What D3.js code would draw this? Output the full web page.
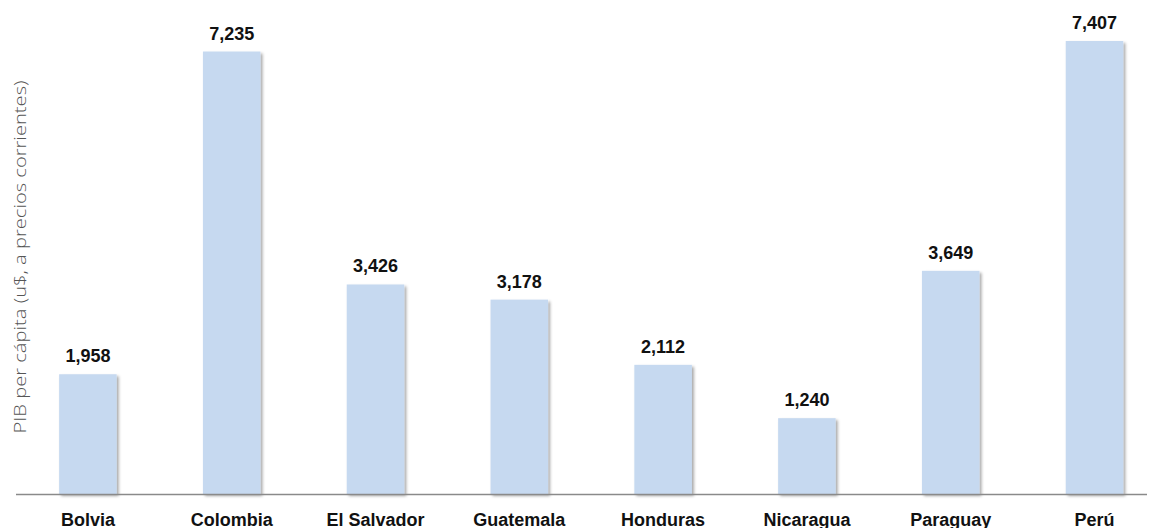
<!DOCTYPE html>
<html>
<head>
<meta charset="utf-8">
<script src="https://cdn.jsdelivr.net/npm/d3@7"></script>
<style>
  html, body { margin: 0; padding: 0; background: #fff; }
  svg { display: block; }
  text { font-family: "Liberation Sans", Arial, Helvetica, sans-serif; }
</style>
</head>
<body>
<svg id="chart" width="1153" height="528"></svg>
<script>
// GDP per capita by country (US$, current prices)
const countries = ["Bolvia", "Colombia", "El Salvador", "Guatemala", "Honduras", "Nicaragua", "Paraguay", "Perú"];
const gdpPerCapita = [1958, 7235, 3426, 3178, 2112, 1240, 3649, 7407];
const yAxisTitle = "PIB per cápita (u$, a precios corrientes)";

const svg = d3.select("#chart");
const W = 1153, H = 528;
const baseY = 494;
const topY = 41;

const x = d3.scaleBand()
  .domain(countries)
  .range([16, 16 + 143.8 * countries.length])
  .paddingInner(0.6)
  .paddingOuter(0.3);

const y = d3.scaleLinear()
  .domain([0, 7407])
  .range([baseY, topY]);

// soft drop shadow under each bar
const defs = svg.append("defs");
const f = defs.append("filter").attr("id", "shadow")
  .attr("x", "-20%").attr("y", "-5%").attr("width", "140%").attr("height", "115%");
f.append("feDropShadow")
  .attr("dx", 2).attr("dy", 2).attr("stdDeviation", 1.6)
  .attr("flood-color", "#000").attr("flood-opacity", 0.35);

const data = countries.map((c, i) => ({ c, v: gdpPerCapita[i] }));

svg.append("g").selectAll("rect")
  .data(data)
  .join("rect")
  .attr("x", d => x(d.c))
  .attr("y", d => y(d.v))
  .attr("width", x.bandwidth())
  .attr("height", d => baseY - y(d.v))
  .attr("fill", "#c6d9f0")
  .attr("filter", "url(#shadow)");

// baseline
svg.append("line")
  .attr("x1", 16).attr("x2", 1147)
  .attr("y1", baseY + 0.5).attr("y2", baseY + 0.5)
  .attr("stroke", "#8a8a8a").attr("stroke-width", 1.5);

// value labels
const fmt = d3.format(",");
svg.append("g").selectAll("text")
  .data(data)
  .join("text")
  .attr("x", d => x(d.c) + x.bandwidth() / 2)
  .attr("y", d => y(d.v) - 12)
  .attr("text-anchor", "middle")
  .attr("font-size", 18)
  .attr("font-weight", "bold")
  .attr("fill", "#111")
  .text(d => fmt(d.v));

// category labels
const xAxis = d3.axisBottom(x).tickSize(0).tickPadding(0);
const gx = svg.append("g")
  .attr("transform", `translate(0,${baseY})`)
  .call(xAxis);
gx.select(".domain").remove();
gx.selectAll("text")
  .attr("dy", 0)
  .attr("y", 31.5)
  .attr("font-size", 18)
  .attr("font-weight", "bold")
  .attr("fill", "#111")
  .style("font-family", "'Liberation Sans', Arial, sans-serif");

// y axis title
svg.append("text")
  .attr("transform", `translate(26,257) rotate(-90)`)
  .attr("text-anchor", "middle")
  .style("font-family", "'Open Sans', 'DejaVu Sans', sans-serif")
  .attr("font-weight", 300)
  .attr("font-size", 17)
  .attr("textLength", 353)
  .attr("lengthAdjust", "spacingAndGlyphs")
  .attr("fill", "#555")
  .text(yAxisTitle);
</script>
</body>
</html>
